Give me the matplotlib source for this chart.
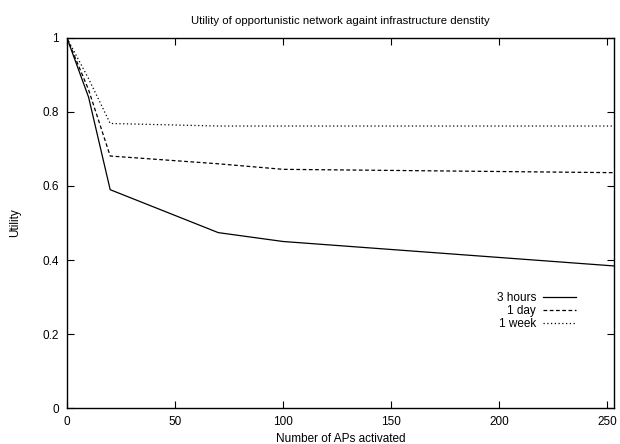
import matplotlib
matplotlib.use('Agg')
import matplotlib.pyplot as plt

plt.rcParams['font.family'] = ['Liberation Sans', 'DejaVu Sans']

# Data
aps = [0, 10, 20, 70, 100, 253]
util_3h = [1.0, 0.84, 0.59, 0.474, 0.45, 0.384]
util_1d = [1.0, 0.86, 0.681, 0.66, 0.645, 0.636]
util_1w = [1.0, 0.89, 0.769, 0.762, 0.762, 0.762]

x_ticks = [0, 50, 100, 150, 200, 250]
y_ticks = [0, 0.2, 0.4, 0.6, 0.8, 1]
y_ticklabels = ['0', '0.2', '0.4', '0.6', '0.8', '1']

fig = plt.figure(figsize=(6.2, 4.44), dpi=100)
ax = fig.add_axes([0.108, 0.081, 0.882, 0.8335])

ax.plot(aps, util_3h, color='black', lw=0.9, ls='-', label='3 hours')
ax.plot(aps, util_1d, color='black', lw=0.9, ls=(0, (3, 2)), label='1 day')
ax.plot(aps, util_1w, color='black', lw=0.9, ls=(0, (1, 2)), label='1 week')

ax.set_xlim(0, 253)
ax.set_ylim(0, 1)
ax.set_xticks(x_ticks)
ax.set_yticks(y_ticks)
ax.set_yticklabels(y_ticklabels)
ax.tick_params(direction='in', top=True, right=True, length=5, width=0.8,
               labelsize=8.5, pad=6)
for s in ax.spines.values():
    s.set_linewidth(1.0)

ax.set_xlabel('Number of APs activated', fontsize=8.5, labelpad=3)
ax.set_ylabel('Utility', fontsize=8.5, labelpad=15)
ax.set_title('Utility of opportunistic network againt infrastructure denstity',
             fontsize=8.2, pad=10)

ax.legend(loc='center left', bbox_to_anchor=(0.775, 0.262), frameon=False,
          markerfirst=False, fontsize=8.5, handlelength=2.8,
          labelspacing=0.1, handletextpad=0.6, borderpad=0)

fig.savefig('out.png', dpi=100)
